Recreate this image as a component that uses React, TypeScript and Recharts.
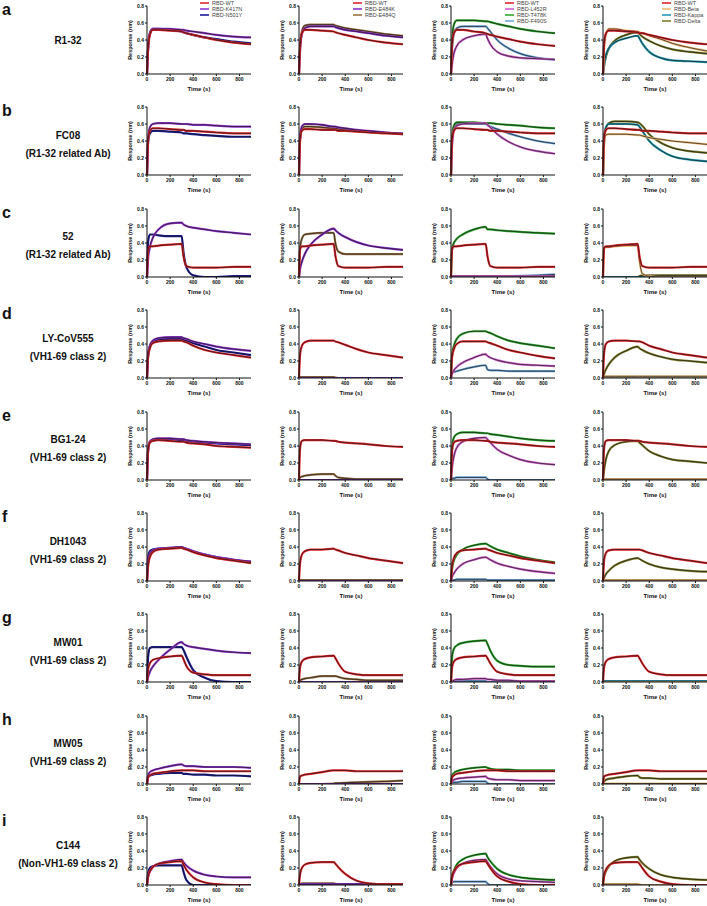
import { LineChart, Line, XAxis, YAxis } from 'recharts'

const TIME = [0, 10, 25, 50, 100, 200, 300, 315, 340, 400, 500, 600, 750, 900]

// a  R1-32
const a1_wt = [0, 0.30, 0.46, 0.52, 0.52, 0.51, 0.50, 0.49, 0.48, 0.46, 0.43, 0.40, 0.37, 0.35]
const a1_k417n = [0, 0.30, 0.47, 0.53, 0.53, 0.53, 0.52, 0.52, 0.51, 0.50, 0.48, 0.46, 0.44, 0.43]
const a1_n501y = [0, 0.32, 0.48, 0.53, 0.53, 0.52, 0.50, 0.49, 0.48, 0.46, 0.43, 0.41, 0.38, 0.36]
const a2_wt = [0, 0.33, 0.48, 0.52, 0.52, 0.51, 0.50, 0.49, 0.48, 0.46, 0.43, 0.40, 0.37, 0.35]
const a2_e484k = [0, 0.30, 0.47, 0.54, 0.56, 0.56, 0.56, 0.55, 0.54, 0.52, 0.50, 0.48, 0.45, 0.43]
const a2_e484q = [0, 0.32, 0.50, 0.57, 0.58, 0.58, 0.58, 0.57, 0.56, 0.54, 0.52, 0.50, 0.47, 0.45]
const a3_wt = [0, 0.35, 0.48, 0.52, 0.52, 0.50, 0.48, 0.47, 0.46, 0.44, 0.41, 0.38, 0.35, 0.33]
const a3_l452r = [0, 0.12, 0.24, 0.33, 0.40, 0.45, 0.47, 0.42, 0.35, 0.26, 0.21, 0.19, 0.18, 0.17]
const a3_t478k = [0, 0.40, 0.58, 0.63, 0.63, 0.63, 0.62, 0.62, 0.61, 0.59, 0.56, 0.53, 0.50, 0.48]
const a3_f490s = [0, 0.30, 0.47, 0.54, 0.56, 0.56, 0.56, 0.54, 0.50, 0.40, 0.30, 0.24, 0.19, 0.17]
const a4_wt = [0, 0.36, 0.48, 0.51, 0.51, 0.50, 0.49, 0.48, 0.48, 0.46, 0.43, 0.40, 0.37, 0.35]
const a4_beta = [0, 0.30, 0.46, 0.53, 0.53, 0.51, 0.50, 0.49, 0.48, 0.45, 0.41, 0.36, 0.31, 0.27]
const a4_kappa = [0, 0.12, 0.22, 0.30, 0.37, 0.42, 0.45, 0.42, 0.36, 0.26, 0.19, 0.16, 0.15, 0.14]
const a4_delta = [0, 0.10, 0.20, 0.30, 0.39, 0.46, 0.49, 0.47, 0.44, 0.39, 0.33, 0.29, 0.26, 0.24]

// b  FC08
const b1_wt = [0, 0.40, 0.52, 0.55, 0.55, 0.54, 0.53, 0.53, 0.52, 0.52, 0.51, 0.50, 0.49, 0.49]
const b1_k417n = [0, 0.42, 0.56, 0.60, 0.61, 0.61, 0.60, 0.60, 0.60, 0.59, 0.59, 0.58, 0.57, 0.57]
const b1_n501y = [0, 0.40, 0.49, 0.52, 0.52, 0.51, 0.50, 0.49, 0.49, 0.48, 0.47, 0.46, 0.45, 0.45]
const b2_wt = [0, 0.42, 0.52, 0.54, 0.54, 0.53, 0.53, 0.53, 0.52, 0.52, 0.51, 0.50, 0.49, 0.48]
const b2_e484k = [0, 0.45, 0.57, 0.60, 0.60, 0.59, 0.57, 0.57, 0.56, 0.55, 0.53, 0.52, 0.50, 0.49]
const b2_e484q = [0, 0.43, 0.54, 0.57, 0.57, 0.56, 0.55, 0.55, 0.54, 0.53, 0.52, 0.51, 0.50, 0.48]
const b3_wt = [0, 0.42, 0.52, 0.55, 0.55, 0.54, 0.53, 0.53, 0.52, 0.52, 0.51, 0.50, 0.49, 0.49]
const b3_l452r = [0, 0.35, 0.52, 0.58, 0.60, 0.61, 0.61, 0.59, 0.56, 0.48, 0.39, 0.33, 0.28, 0.25]
const b3_t478k = [0, 0.45, 0.58, 0.62, 0.62, 0.62, 0.61, 0.61, 0.61, 0.60, 0.59, 0.58, 0.56, 0.55]
const b3_f490s = [0, 0.42, 0.56, 0.60, 0.60, 0.60, 0.60, 0.59, 0.57, 0.54, 0.49, 0.45, 0.40, 0.37]
const b4_wt = [0, 0.45, 0.53, 0.55, 0.55, 0.54, 0.53, 0.53, 0.52, 0.52, 0.51, 0.50, 0.49, 0.49]
const b4_beta = [0, 0.40, 0.47, 0.48, 0.48, 0.48, 0.47, 0.47, 0.46, 0.44, 0.42, 0.40, 0.38, 0.36]
const b4_kappa = [0, 0.42, 0.56, 0.60, 0.60, 0.60, 0.59, 0.57, 0.52, 0.40, 0.29, 0.22, 0.18, 0.16]
const b4_delta = [0, 0.38, 0.55, 0.61, 0.63, 0.63, 0.62, 0.61, 0.58, 0.48, 0.38, 0.32, 0.28, 0.26]

// c  52
const c1_wt = [0, 0.33, 0.36, 0.36, 0.37, 0.38, 0.39, 0.25, 0.13, 0.11, 0.11, 0.11, 0.12, 0.12]
const c1_k417n = [0, 0.22, 0.35, 0.46, 0.56, 0.63, 0.64, 0.62, 0.60, 0.58, 0.56, 0.54, 0.52, 0.50]
const c1_n501y = [0, 0.42, 0.50, 0.50, 0.49, 0.48, 0.48, 0.30, 0.12, 0.02, 0.0, 0.0, 0.01, 0.01]
const c2_wt = [0, 0.33, 0.36, 0.36, 0.37, 0.38, 0.39, 0.25, 0.13, 0.11, 0.11, 0.11, 0.12, 0.12]
const c2_e484k = [0, 0.10, 0.18, 0.27, 0.38, 0.50, 0.57, 0.55, 0.52, 0.47, 0.41, 0.37, 0.34, 0.32]
const c2_e484q = [0, 0.35, 0.45, 0.50, 0.51, 0.52, 0.52, 0.40, 0.30, 0.27, 0.27, 0.27, 0.27, 0.27]
const c3_wt = [0, 0.33, 0.36, 0.36, 0.37, 0.38, 0.39, 0.25, 0.13, 0.11, 0.11, 0.11, 0.12, 0.12]
const c3_l452r = [0, 0.01, 0.01, 0.01, 0.01, 0.01, 0.01, 0.01, 0.01, 0.01, 0.01, 0.01, 0.01, 0.01]
const c3_t478k = [0, 0.34, 0.40, 0.45, 0.50, 0.56, 0.59, 0.56, 0.56, 0.55, 0.54, 0.53, 0.52, 0.51]
const c3_f490s = [0, 0.0, 0.0, 0.0, 0.0, 0.0, 0.0, 0.0, 0.0, 0.005, 0.01, 0.015, 0.02, 0.03]
const c4_wt = [0, 0.34, 0.36, 0.36, 0.37, 0.38, 0.39, 0.25, 0.13, 0.11, 0.11, 0.11, 0.12, 0.12]
const c4_beta = [0, 0.33, 0.35, 0.35, 0.36, 0.37, 0.37, 0.20, 0.04, 0.01, 0.0, 0.0, 0.0, 0.0]
const c4_kappa = [0, 0.0, 0.0, 0.0, 0.0, 0.0, 0.0, 0.0, 0.0, 0.0, 0.0, 0.0, 0.0, 0.0]
const c4_delta = [0, 0.0, 0.0, 0.0, 0.0, 0.0, 0.0, 0.01, 0.02, 0.02, 0.02, 0.02, 0.02, 0.02]

// d  LY-CoV555
const d1_wt = [0, 0.25, 0.35, 0.41, 0.43, 0.44, 0.44, 0.43, 0.42, 0.38, 0.33, 0.30, 0.27, 0.24]
const d1_k417n = [0, 0.28, 0.38, 0.44, 0.47, 0.48, 0.48, 0.47, 0.46, 0.43, 0.40, 0.37, 0.34, 0.32]
const d1_n501y = [0, 0.27, 0.37, 0.43, 0.45, 0.46, 0.46, 0.45, 0.44, 0.41, 0.37, 0.33, 0.30, 0.27]
const d2_wt = [0, 0.28, 0.38, 0.42, 0.44, 0.44, 0.44, 0.43, 0.42, 0.39, 0.34, 0.30, 0.27, 0.24]
const d2_e484k = [0, 0.0, 0.0, 0.0, 0.0, 0.0, 0.0, 0.0, 0.0, 0.0, 0.0, 0.0, 0.0, 0.0]
const d2_e484q = [0, 0.01, 0.01, 0.01, 0.01, 0.01, 0.01, 0.005, 0.0, 0.0, 0.0, 0.0, 0.0, 0.0]
const d3_wt = [0, 0.25, 0.34, 0.40, 0.43, 0.43, 0.43, 0.42, 0.41, 0.38, 0.33, 0.30, 0.26, 0.23]
const d3_l452r = [0, 0.05, 0.09, 0.13, 0.18, 0.24, 0.28, 0.26, 0.24, 0.21, 0.18, 0.16, 0.15, 0.14]
const d3_t478k = [0, 0.28, 0.38, 0.46, 0.52, 0.55, 0.55, 0.54, 0.53, 0.49, 0.44, 0.41, 0.38, 0.35]
const d3_f490s = [0, 0.06, 0.07, 0.08, 0.10, 0.13, 0.15, 0.10, 0.09, 0.09, 0.08, 0.08, 0.08, 0.08]
const d4_wt = [0, 0.30, 0.40, 0.43, 0.44, 0.44, 0.43, 0.43, 0.42, 0.38, 0.34, 0.30, 0.27, 0.24]
const d4_beta = [0, 0.02, 0.02, 0.02, 0.02, 0.02, 0.02, 0.02, 0.02, 0.02, 0.02, 0.02, 0.02, 0.02]
const d4_kappa = [0, 0.0, 0.0, 0.0, 0.0, 0.0, 0.0, 0.0, 0.0, 0.0, 0.0, 0.0, 0.0, 0.0]
const d4_delta = [0, 0.05, 0.10, 0.16, 0.24, 0.32, 0.37, 0.35, 0.33, 0.29, 0.25, 0.22, 0.20, 0.18]

// e  BG1-24
const e1_wt = [0, 0.35, 0.44, 0.46, 0.47, 0.46, 0.45, 0.45, 0.44, 0.43, 0.42, 0.40, 0.39, 0.38]
const e1_k417n = [0, 0.36, 0.45, 0.48, 0.49, 0.49, 0.48, 0.48, 0.47, 0.46, 0.45, 0.44, 0.43, 0.42]
const e1_n501y = [0, 0.35, 0.45, 0.47, 0.48, 0.48, 0.47, 0.47, 0.46, 0.45, 0.44, 0.43, 0.42, 0.41]
const e2_wt = [0, 0.38, 0.46, 0.47, 0.47, 0.47, 0.46, 0.46, 0.45, 0.44, 0.43, 0.42, 0.40, 0.39]
const e2_e484k = [0, 0.0, 0.0, 0.0, 0.0, 0.0, 0.0, 0.0, 0.0, 0.0, 0.0, 0.0, 0.0, 0.0]
const e2_e484q = [0, 0.03, 0.04, 0.05, 0.06, 0.07, 0.07, 0.05, 0.03, 0.02, 0.01, 0.01, 0.01, 0.01]
const e3_wt = [0, 0.36, 0.44, 0.46, 0.47, 0.47, 0.46, 0.46, 0.45, 0.44, 0.43, 0.42, 0.40, 0.39]
const e3_l452r = [0, 0.15, 0.28, 0.38, 0.45, 0.49, 0.50, 0.48, 0.44, 0.36, 0.29, 0.24, 0.20, 0.18]
const e3_t478k = [0, 0.38, 0.50, 0.54, 0.56, 0.56, 0.55, 0.55, 0.54, 0.53, 0.51, 0.49, 0.47, 0.46]
const e3_f490s = [0, 0.02, 0.02, 0.03, 0.03, 0.03, 0.03, 0.01, 0.0, 0.0, 0.0, 0.0, 0.0, 0.0]
const e4_wt = [0, 0.38, 0.46, 0.47, 0.47, 0.47, 0.46, 0.46, 0.45, 0.44, 0.43, 0.42, 0.40, 0.39]
const e4_beta = [0, 0.01, 0.01, 0.01, 0.01, 0.01, 0.01, 0.01, 0.01, 0.01, 0.01, 0.01, 0.01, 0.01]
const e4_kappa = [0, 0.0, 0.0, 0.0, 0.0, 0.0, 0.0, 0.0, 0.0, 0.0, 0.0, 0.0, 0.0, 0.0]
const e4_delta = [0, 0.12, 0.24, 0.34, 0.41, 0.45, 0.46, 0.44, 0.41, 0.34, 0.28, 0.24, 0.22, 0.20]

// f  DH1043
const f1_wt = [0, 0.18, 0.28, 0.34, 0.37, 0.38, 0.39, 0.38, 0.37, 0.34, 0.30, 0.27, 0.24, 0.21]
const f1_k417n = [0, 0.22, 0.32, 0.36, 0.38, 0.39, 0.40, 0.39, 0.38, 0.35, 0.31, 0.28, 0.25, 0.23]
const f1_n501y = [0, 0.28, 0.35, 0.37, 0.38, 0.39, 0.40, 0.39, 0.38, 0.35, 0.31, 0.28, 0.25, 0.22]
const f2_wt = [0, 0.22, 0.31, 0.35, 0.37, 0.37, 0.38, 0.37, 0.36, 0.33, 0.30, 0.27, 0.24, 0.21]
const f2_e484k = [0, 0.0, 0.0, 0.0, 0.0, 0.0, 0.0, 0.0, 0.0, 0.0, 0.0, 0.0, 0.0, 0.0]
const f2_e484q = [0, 0.01, 0.01, 0.01, 0.01, 0.01, 0.01, 0.01, 0.01, 0.01, 0.01, 0.01, 0.01, 0.01]
const f3_wt = [0, 0.18, 0.27, 0.33, 0.36, 0.37, 0.38, 0.37, 0.36, 0.33, 0.30, 0.27, 0.24, 0.21]
const f3_l452r = [0, 0.05, 0.09, 0.14, 0.20, 0.25, 0.28, 0.27, 0.25, 0.21, 0.17, 0.14, 0.11, 0.09]
const f3_t478k = [0, 0.15, 0.24, 0.31, 0.37, 0.42, 0.44, 0.43, 0.41, 0.37, 0.33, 0.29, 0.25, 0.22]
const f3_f490s = [0, 0.01, 0.01, 0.02, 0.02, 0.02, 0.02, 0.01, 0.01, 0.01, 0.01, 0.01, 0.01, 0.01]
const f4_wt = [0, 0.25, 0.33, 0.36, 0.37, 0.37, 0.37, 0.37, 0.36, 0.33, 0.30, 0.27, 0.24, 0.21]
const f4_beta = [0, 0.01, 0.01, 0.01, 0.01, 0.01, 0.01, 0.01, 0.01, 0.01, 0.01, 0.01, 0.01, 0.01]
const f4_kappa = [0, 0.0, 0.0, 0.0, 0.0, 0.0, 0.0, 0.0, 0.0, 0.0, 0.0, 0.0, 0.0, 0.0]
const f4_delta = [0, 0.04, 0.08, 0.12, 0.18, 0.24, 0.27, 0.26, 0.24, 0.20, 0.16, 0.14, 0.12, 0.11]

// g  MW01
const g1_wt = [0, 0.15, 0.22, 0.26, 0.28, 0.30, 0.31, 0.27, 0.19, 0.11, 0.09, 0.08, 0.08, 0.08]
const g1_k417n = [0, 0.06, 0.12, 0.18, 0.26, 0.38, 0.47, 0.45, 0.43, 0.41, 0.39, 0.37, 0.35, 0.34]
const g1_n501y = [0, 0.30, 0.40, 0.41, 0.41, 0.41, 0.41, 0.38, 0.30, 0.14, 0.05, 0.01, 0.0, 0.0]
const g2_wt = [0, 0.18, 0.24, 0.27, 0.29, 0.30, 0.31, 0.28, 0.22, 0.12, 0.09, 0.08, 0.08, 0.08]
const g2_e484k = [0, 0.0, 0.0, 0.0, 0.0, 0.0, 0.0, 0.0, 0.0, 0.0, 0.0, 0.0, 0.0, 0.0]
const g2_e484q = [0, 0.02, 0.03, 0.04, 0.05, 0.07, 0.07, 0.07, 0.06, 0.04, 0.03, 0.02, 0.02, 0.02]
const g3_wt = [0, 0.18, 0.24, 0.27, 0.29, 0.30, 0.31, 0.28, 0.22, 0.12, 0.09, 0.08, 0.08, 0.08]
const g3_l452r = [0, 0.01, 0.02, 0.03, 0.03, 0.04, 0.04, 0.03, 0.03, 0.02, 0.02, 0.01, 0.01, 0.01]
const g3_t478k = [0, 0.30, 0.39, 0.43, 0.46, 0.48, 0.49, 0.45, 0.37, 0.25, 0.20, 0.19, 0.18, 0.18]
const g3_f490s = [0, 0.0, 0.0, 0.01, 0.01, 0.01, 0.01, 0.0, 0.0, 0.0, 0.0, 0.0, 0.0, 0.0]
const g4_wt = [0, 0.18, 0.24, 0.27, 0.29, 0.30, 0.31, 0.28, 0.22, 0.12, 0.09, 0.08, 0.08, 0.08]
const g4_beta = [0, 0.0, 0.0, 0.0, 0.0, 0.0, 0.0, 0.0, 0.0, 0.0, 0.0, 0.0, 0.0, 0.0]
const g4_kappa = [0, 0.01, 0.01, 0.01, 0.01, 0.01, 0.01, 0.01, 0.01, 0.01, 0.01, 0.01, 0.01, 0.01]
const g4_delta = [0, 0.01, 0.01, 0.01, 0.01, 0.01, 0.01, 0.01, 0.01, 0.01, 0.01, 0.01, 0.01, 0.01]

// h  MW05
const h1_wt = [0, 0.08, 0.10, 0.12, 0.13, 0.15, 0.16, 0.16, 0.16, 0.16, 0.15, 0.15, 0.15, 0.15]
const h1_k417n = [0, 0.10, 0.14, 0.16, 0.18, 0.21, 0.23, 0.22, 0.21, 0.21, 0.20, 0.20, 0.20, 0.19]
const h1_n501y = [0, 0.08, 0.10, 0.11, 0.12, 0.13, 0.13, 0.12, 0.12, 0.11, 0.11, 0.10, 0.10, 0.09]
const h2_wt = [0, 0.09, 0.10, 0.11, 0.12, 0.14, 0.16, 0.16, 0.16, 0.16, 0.15, 0.15, 0.15, 0.15]
const h2_e484k = [0, 0.0, 0.0, 0.0, 0.0, 0.0, 0.0, 0.0, 0.0, 0.0, 0.0, 0.0, 0.0, 0.0]
const h2_e484q = [0, 0.0, 0.0, 0.0, 0.0, 0.0, 0.005, 0.01, 0.01, 0.015, 0.02, 0.025, 0.03, 0.04]
const h3_wt = [0, 0.08, 0.10, 0.12, 0.13, 0.15, 0.16, 0.16, 0.16, 0.16, 0.15, 0.15, 0.15, 0.15]
const h3_l452r = [0, 0.03, 0.05, 0.06, 0.07, 0.08, 0.09, 0.07, 0.06, 0.05, 0.05, 0.04, 0.04, 0.04]
const h3_t478k = [0, 0.10, 0.13, 0.15, 0.17, 0.19, 0.20, 0.19, 0.18, 0.17, 0.17, 0.16, 0.16, 0.16]
const h3_f490s = [0, 0.02, 0.02, 0.02, 0.03, 0.03, 0.03, 0.01, 0.0, 0.0, 0.0, 0.0, 0.0, 0.0]
const h4_wt = [0, 0.09, 0.10, 0.11, 0.12, 0.14, 0.16, 0.16, 0.16, 0.16, 0.15, 0.15, 0.15, 0.15]
const h4_beta = [0, 0.005, 0.005, 0.005, 0.005, 0.005, 0.005, 0.005, 0.005, 0.005, 0.005, 0.005, 0.005, 0.005]
const h4_kappa = [0, 0.0, 0.0, 0.0, 0.0, 0.0, 0.0, 0.0, 0.0, 0.0, 0.0, 0.0, 0.0, 0.0]
const h4_delta = [0, 0.03, 0.05, 0.06, 0.07, 0.09, 0.10, 0.08, 0.07, 0.07, 0.06, 0.06, 0.06, 0.06]

// i  C144
const i1_wt = [0, 0.10, 0.16, 0.21, 0.25, 0.27, 0.28, 0.24, 0.18, 0.09, 0.03, 0.01, 0.0, 0.0]
const i1_k417n = [0, 0.10, 0.16, 0.21, 0.25, 0.28, 0.30, 0.27, 0.23, 0.17, 0.12, 0.10, 0.09, 0.09]
const i1_n501y = [0, 0.14, 0.20, 0.22, 0.23, 0.23, 0.23, 0.16, 0.06, 0.0, 0.0, 0.0, 0.0, 0.0]
const i2_wt = [0, 0.13, 0.20, 0.24, 0.26, 0.27, 0.27, 0.25, 0.21, 0.13, 0.05, 0.02, 0.01, 0.01]
const i2_e484k = [0, 0.01, 0.01, 0.01, 0.01, 0.01, 0.01, 0.01, 0.01, 0.01, 0.01, 0.01, 0.01, 0.01]
const i2_e484q = [0, 0.01, 0.02, 0.02, 0.02, 0.02, 0.02, 0.015, 0.01, 0.01, 0.005, 0.0, 0.0, 0.0]
const i3_wt = [0, 0.10, 0.16, 0.21, 0.25, 0.27, 0.28, 0.25, 0.20, 0.10, 0.04, 0.01, 0.0, 0.0]
const i3_l452r = [0, 0.08, 0.14, 0.20, 0.25, 0.29, 0.30, 0.27, 0.22, 0.13, 0.07, 0.05, 0.04, 0.03]
const i3_t478k = [0, 0.10, 0.17, 0.24, 0.30, 0.35, 0.37, 0.33, 0.28, 0.19, 0.12, 0.09, 0.07, 0.06]
const i3_f490s = [0, 0.03, 0.04, 0.04, 0.04, 0.04, 0.04, 0.02, 0.0, 0.0, 0.0, 0.0, 0.0, 0.0]
const i4_wt = [0, 0.12, 0.18, 0.23, 0.26, 0.27, 0.27, 0.25, 0.20, 0.10, 0.04, 0.01, 0.0, 0.0]
const i4_beta = [0, 0.01, 0.01, 0.01, 0.01, 0.01, 0.01, 0.005, 0.0, 0.0, 0.0, 0.0, 0.0, 0.0]
const i4_kappa = [0, 0.0, 0.0, 0.0, 0.0, 0.0, 0.0, 0.0, 0.0, 0.0, 0.0, 0.0, 0.0, 0.0]
const i4_delta = [0, 0.10, 0.16, 0.22, 0.28, 0.32, 0.33, 0.30, 0.26, 0.19, 0.12, 0.09, 0.07, 0.06]

const ROW_LETTERS = ['a', 'b', 'c', 'd', 'e', 'f', 'g', 'h', 'i']
const ROW_NAMES = ['R1-32', 'FC08', '52', 'LY-CoV555', 'BG1-24', 'DH1043', 'MW01', 'MW05', 'C144']
const ROW_SUBS = [
  '',
  '(R1-32 related Ab)',
  '(R1-32 related Ab)',
  '(VH1-69 class 2)',
  '(VH1-69 class 2)',
  '(VH1-69 class 2)',
  '(VH1-69 class 2)',
  '(VH1-69 class 2)',
  '(Non-VH1-69 class 2)',
]

const COLUMN_VARIANTS = [
  ['RBD-WT', 'RBD-K417N', 'RBD-N501Y'],
  ['RBD-WT', 'RBD-E484K', 'RBD-E484Q'],
  ['RBD-WT', 'RBD-L452R', 'RBD-T478K', 'RBD-F490S'],
  ['RBD-WT', 'RBD-Beta', 'RBD-Kappa', 'RBD-Delta'],
]

const COLORS: Record<string, string> = {
  'RBD-WT': '#e3262b',
  'RBD-K417N': '#9236cf',
  'RBD-N501Y': '#1e1e9c',
  'RBD-E484K': '#8a2fc8',
  'RBD-E484Q': '#9a7447',
  'RBD-L452R': '#d060cc',
  'RBD-T478K': '#2fa52f',
  'RBD-F490S': '#6ea6da',
  'RBD-Beta': '#f0bc78',
  'RBD-Kappa': '#2698b0',
  'RBD-Delta': '#7e7d2c',
}

const PANELS = [
  [[a1_wt, a1_k417n, a1_n501y], [a2_wt, a2_e484k, a2_e484q], [a3_wt, a3_l452r, a3_t478k, a3_f490s], [a4_wt, a4_beta, a4_kappa, a4_delta]],
  [[b1_wt, b1_k417n, b1_n501y], [b2_wt, b2_e484k, b2_e484q], [b3_wt, b3_l452r, b3_t478k, b3_f490s], [b4_wt, b4_beta, b4_kappa, b4_delta]],
  [[c1_wt, c1_k417n, c1_n501y], [c2_wt, c2_e484k, c2_e484q], [c3_wt, c3_l452r, c3_t478k, c3_f490s], [c4_wt, c4_beta, c4_kappa, c4_delta]],
  [[d1_wt, d1_k417n, d1_n501y], [d2_wt, d2_e484k, d2_e484q], [d3_wt, d3_l452r, d3_t478k, d3_f490s], [d4_wt, d4_beta, d4_kappa, d4_delta]],
  [[e1_wt, e1_k417n, e1_n501y], [e2_wt, e2_e484k, e2_e484q], [e3_wt, e3_l452r, e3_t478k, e3_f490s], [e4_wt, e4_beta, e4_kappa, e4_delta]],
  [[f1_wt, f1_k417n, f1_n501y], [f2_wt, f2_e484k, f2_e484q], [f3_wt, f3_l452r, f3_t478k, f3_f490s], [f4_wt, f4_beta, f4_kappa, f4_delta]],
  [[g1_wt, g1_k417n, g1_n501y], [g2_wt, g2_e484k, g2_e484q], [g3_wt, g3_l452r, g3_t478k, g3_f490s], [g4_wt, g4_beta, g4_kappa, g4_delta]],
  [[h1_wt, h1_k417n, h1_n501y], [h2_wt, h2_e484k, h2_e484q], [h3_wt, h3_l452r, h3_t478k, h3_f490s], [h4_wt, h4_beta, h4_kappa, h4_delta]],
  [[i1_wt, i1_k417n, i1_n501y], [i2_wt, i2_e484k, i2_e484q], [i3_wt, i3_l452r, i3_t478k, i3_f490s], [i4_wt, i4_beta, i4_kappa, i4_delta]],
]

const X_TICKS = [0, 200, 400, 600, 800]
const Y_TICKS = [0, 0.2, 0.4, 0.6, 0.8]

const ROW_PITCH = 101.4
const COL_PITCH = 152
const FONT = '"Liberation Sans", Arial, sans-serif'
const LEGEND_X = [200, 353, 505, 662]

function XTitle(props: any) {
  const vb = props.viewBox
  if (!vb) return null
  return (
    <text x={vb.x + vb.width / 2} y={vb.y + 17} textAnchor='middle' fontSize={6} fontWeight={700} fill='#111' fontFamily={FONT}>
      Time (s)
    </text>
  )
}

function YTitle(props: any) {
  const vb = props.viewBox
  if (!vb) return null
  const x = vb.x + 15
  const y = vb.y + vb.height / 2
  return (
    <text x={x} y={y} transform={`rotate(-90 ${x} ${y})`} textAnchor='middle' fontSize={5.5} fontWeight={700} fill='#111' fontFamily={FONT}>
      Response (nm)
    </text>
  )
}

function Panel({ series, names, left, top }: { series: number[][]; names: string[]; left: number; top: number }) {
  const rows = TIME.map((t, i) => {
    const r: Record<string, number> = { t }
    series.forEach((s, k) => {
      r['s' + k] = s[i]
    })
    return r
  })
  // WT drawn last so it sits on top, each trace with its black fit line
  const order = series.map((_, k) => k).reverse()
  return (
    <div style={{ position: 'absolute', left, top }}>
      <LineChart width={140} height={96} data={rows} margin={{ top: 4, right: 6, bottom: 0, left: 0 }}>
        <XAxis
          dataKey='t'
          type='number'
          domain={[0, 900]}
          ticks={X_TICKS}
          height={24}
          tickSize={2}
          tickMargin={1}
          stroke='#111'
          tick={{ fontSize: 5, fill: '#111', fontFamily: FONT, fontWeight: 700 }}
          label={<XTitle />}
        />
        <YAxis
          type='number'
          domain={[0, 0.8]}
          allowDataOverflow
          ticks={Y_TICKS}
          tickFormatter={(v: number) => v.toFixed(1)}
          width={30}
          tickSize={2}
          tickMargin={1}
          stroke='#111'
          tick={{ fontSize: 5, fill: '#111', fontFamily: FONT, fontWeight: 700 }}
          label={<YTitle />}
        />
        {order.flatMap((k) => [
          <Line
            key={'c' + k}
            type='monotone'
            dataKey={'s' + k}
            stroke={COLORS[names[k]]}
            strokeWidth={2.2}
            dot={false}
            activeDot={false}
            isAnimationActive={false}
          />,
          <Line
            key={'f' + k}
            type='monotone'
            dataKey={'s' + k}
            stroke='#111'
            strokeWidth={0.7}
            dot={false}
            activeDot={false}
            isAnimationActive={false}
          />,
        ])}
      </LineChart>
    </div>
  )
}

export default function App() {
  return (
    <div style={{ position: 'absolute', left: 0, top: 0, width: 707, height: 906, background: '#fff', overflow: 'hidden' }}>
      <svg width={707} height={906} style={{ position: 'absolute', left: 0, top: 0 }} fontFamily={FONT}>
        {ROW_LETTERS.map((letter, r) => {
          const y0 = r * ROW_PITCH
          const two = ROW_SUBS[r] !== ''
          return (
            <g key={letter}>
              <text x={2} y={y0 + 15} fontSize={16} fontWeight={700} fill='#111'>
                {letter}
              </text>
              <text x={68} y={y0 + (two ? 37.5 : 43.5)} textAnchor='middle' fontSize={10} fontWeight={700} fill='#111'>
                {ROW_NAMES[r]}
              </text>
              {two && (
                <text x={68} y={y0 + 55.5} textAnchor='middle' fontSize={10} fontWeight={700} fill='#111'>
                  {ROW_SUBS[r]}
                </text>
              )}
            </g>
          )
        })}
        {COLUMN_VARIANTS.map((names, c) => (
          <g key={'lg' + c}>
            {names.map((n, k) => (
              <g key={n}>
                <line x1={LEGEND_X[c]} x2={LEGEND_X[c] + 9} y1={3 + 6 * k} y2={3 + 6 * k} stroke={COLORS[n]} strokeWidth={1.6} />
                <text x={LEGEND_X[c] + 12} y={5 + 6 * k} fontSize={5.5} fill='#444'>
                  {n}
                </text>
              </g>
            ))}
          </g>
        ))}
      </svg>
      {PANELS.map((rowPanels, r) =>
        rowPanels.map((series, c) => (
          <Panel
            key={r + '-' + c}
            series={series}
            names={COLUMN_VARIANTS[c]}
            left={117 + COL_PITCH * c}
            top={Math.round(r * ROW_PITCH) + 2}
          />
        ))
      )}
    </div>
  )
}
